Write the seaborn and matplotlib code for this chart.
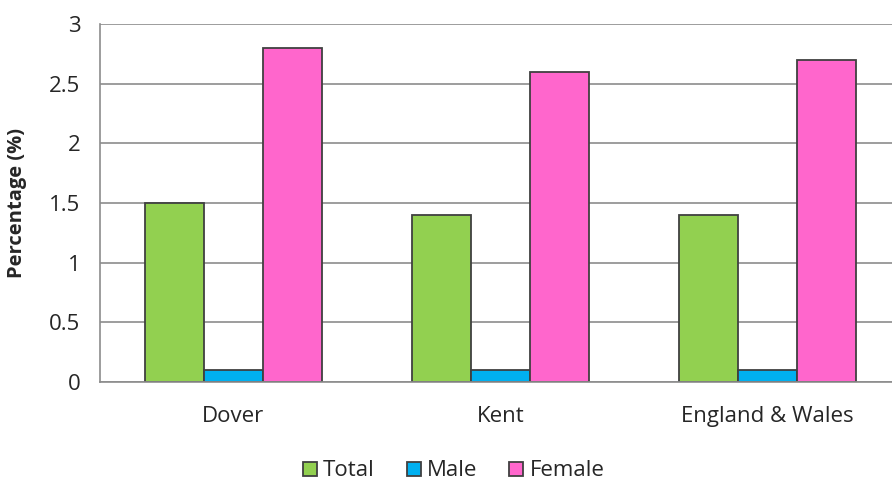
import numpy as np
import pandas as pd
import matplotlib.pyplot as plt
import seaborn as sns
from matplotlib.lines import Line2D

areas = ["Dover", "Kent", "England & Wales"]
groups = ["Total", "Male", "Female"]
total = [1.5, 1.4, 1.4]
male = [0.1, 0.1, 0.1]
female = [2.8, 2.6, 2.7]
colors = ["#92D050", "#00B0F0", "#FF66CC"]

df = pd.DataFrame({
    "area": areas * 3,
    "group": ["Total"] * 3 + ["Male"] * 3 + ["Female"] * 3,
    "value": total + male + female,
})

sns.set_style("white")
plt.rcParams["font.family"] = ["Open Sans", "DejaVu Sans"]

fig = plt.figure(figsize=(8.92, 4.84), dpi=100)
ax = fig.add_axes([100 / 892, 102 / 484, 1 - 100 / 892, 358 / 484])

sns.barplot(data=df, x="area", y="value", hue="group", order=areas,
            hue_order=groups, palette=colors, width=0.663, saturation=1,
            edgecolor="#404040", linewidth=1.3, ax=ax, legend=False)

grid = "#8c8c8c"
fs = 16
ax.set_ylim(0, 3)
ax.set_yticks(np.arange(0, 3.01, 0.5))
ax.set_yticklabels(["0", "0.5", "1", "1.5", "2", "2.5", "3"])
ax.yaxis.grid(True, color=grid, linewidth=1.2)
ax.set_axisbelow(True)
ax.set_xlim(-0.5, 2.5 - 9 / 267)
ax.set_xticks([-0.5, 0.5, 1.5], minor=True)
ax.tick_params(axis="x", which="major", length=0, pad=17, labelsize=fs)
ax.tick_params(axis="x", which="minor", length=9, color=grid, width=1.2)
ax.tick_params(axis="y", length=7, color=grid, width=1.2, labelsize=fs, pad=7)

for s in ["top", "right"]:
    ax.spines[s].set_visible(False)
for s in ["left", "bottom"]:
    ax.spines[s].set_color(grid)
    ax.spines[s].set_linewidth(1.2)

ax.set_xlabel("")
ax.set_ylabel("Percentage (%)", fontsize=fs - 1.5, fontweight="bold")
ax.yaxis.set_label_coords(-73 / 792, 0.5)

handles = [Line2D([], [], marker="s", linestyle="", markersize=10,
                  markerfacecolor=c, markeredgecolor="#404040",
                  markeredgewidth=1.3) for c in colors]
fig.legend(handles, groups, loc="center", bbox_to_anchor=(452 / 892, 1 - 471 / 484),
           ncol=3, frameon=False, fontsize=fs, handletextpad=0.15,
           columnspacing=1.3, handlelength=0.9)

fig.savefig("out.png", dpi=100)
